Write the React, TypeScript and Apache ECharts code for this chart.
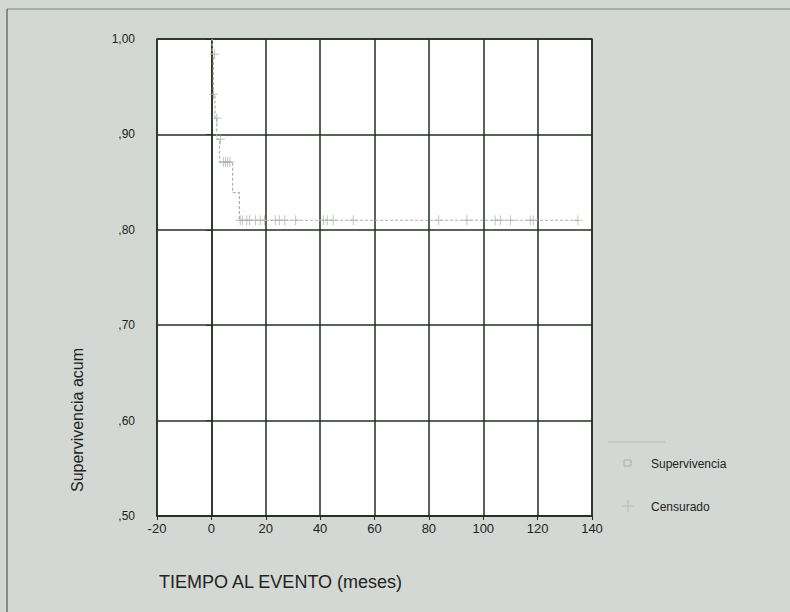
import React, { useEffect, useRef } from "react";
import * as echarts from "echarts";

// Kaplan-Meier survival curve (time in months, cumulative survival)
const stepTimes = [0, 0.3, 0.7, 1.3, 2.0, 3.0, 7.8, 10.3, 135];
const stepValues = [1.0, 0.984, 0.942, 0.917, 0.895, 0.871, 0.839, 0.81, 0.81];

// Censored observations
const censorTimes = [1.2, 0.8, 2.0, 3.3, 4.4, 5.2, 6.0, 6.8, 10.6, 11.4, 13.0, 14.0, 16.2, 18.0, 19.5, 23.5, 25.0, 27.0, 31.0, 41.2, 42.6, 44.8, 52.2, 83.6, 94.0, 104.4, 106.3, 110.0, 117.3, 118.4, 134.8];
const censorValues = [0.984, 0.942, 0.917, 0.895, 0.871, 0.871, 0.871, 0.871, 0.81, 0.81, 0.81, 0.81, 0.81, 0.81, 0.81, 0.81, 0.81, 0.81, 0.81, 0.81, 0.81, 0.81, 0.81, 0.81, 0.81, 0.81, 0.81, 0.81, 0.81, 0.81, 0.81];

const xTicks = [-20, 0, 20, 40, 60, 80, 100, 120, 140];
const yTicks = [0.5, 0.6, 0.7, 0.8, 0.9, 1.0];

const legendNames = ["Supervivencia", "Censurado"];
const xAxisTitle = "TIEMPO AL EVENTO (meses)";
const yAxisTitle = "Supervivencia acum";

const fmtY = (v: number) => {
  const s = v.toFixed(2).replace(".", ",");
  return s.startsWith("0") ? s.slice(1) : s;
};

export default function App() {
  const ref = useRef<HTMLDivElement>(null);
  useEffect(() => {
    if (!ref.current) return;
    const chart = echarts.init(ref.current, null, { renderer: "svg" });
    const dark = "#223022";
    const curveColor = "#aab2aa";
    const font = "Liberation Sans, Arial, sans-serif";
    chart.setOption({
      animation: false,
      backgroundColor: "#d4d8d4",
      grid: {
        left: 157,
        right: 198,
        top: 39,
        bottom: 96,
        show: true,
        backgroundColor: "#ffffff",
        borderColor: dark,
        borderWidth: 1.5,
      },
      xAxis: {
        type: "value",
        min: xTicks[0],
        max: xTicks[xTicks.length - 1],
        interval: 20,
        axisLine: { show: true, lineStyle: { color: dark, width: 1.5 } },
        axisTick: { show: true, length: 4, lineStyle: { color: dark } },
        axisLabel: { color: "#222", fontSize: 13, fontFamily: font, margin: 6 },
        splitLine: { show: true, lineStyle: { color: dark, width: 1.5 } },
      },
      yAxis: {
        type: "value",
        min: yTicks[0],
        max: yTicks[yTicks.length - 1],
        interval: 0.1,
        axisLine: { show: true, lineStyle: { color: dark, width: 1.5 } },
        axisTick: { show: true, length: 5, lineStyle: { color: dark } },
        axisLabel: {
          color: "#222",
          fontSize: 12,
          fontFamily: font,
          margin: 22,
          formatter: (v: number) => fmtY(v),
        },
        splitLine: { show: true, lineStyle: { color: dark, width: 1.5 } },
      },
      series: [
        {
          name: legendNames[0],
          type: "line",
          step: "end",
          data: stepTimes.map((t, i) => [t, stepValues[i]]),
          showSymbol: false,
          lineStyle: { color: curveColor, width: 1.2, type: [3, 2] },
          z: 5,
        },
        {
          name: legendNames[1],
          type: "scatter",
          data: censorTimes.map((t, i) => [t, censorValues[i]]),
          symbol: "path://M5 0 L5 10 M0 5 L10 5",
          symbolSize: [9, 10],
          itemStyle: { color: "transparent", borderColor: curveColor, borderWidth: 1 },
          z: 6,
        },
      ],
      graphic: [
        { type: "line", shape: { x1: 7, y1: 9, x2: 790, y2: 9 }, style: { stroke: "#7a847a", lineWidth: 1 } },
        { type: "line", shape: { x1: 7, y1: 9, x2: 7, y2: 612 }, style: { stroke: "#6a746a", lineWidth: 1.5 } },
        {
          type: "text",
          left: 159,
          top: 573,
          style: { text: xAxisTitle, fontSize: 18, fontFamily: font, fill: "#222" },
        },
        {
          type: "text",
          x: 77,
          y: 420,
          rotation: Math.PI / 2,
          style: {
            text: yAxisTitle,
            fontSize: 16,
            fontFamily: font,
            fill: "#222",
            textAlign: "center",
            textVerticalAlign: "middle",
          },
        },
        { type: "line", shape: { x1: 608, y1: 442, x2: 665, y2: 442 }, style: { stroke: "#b4bbb4", lineWidth: 1 } },
        { type: "rect", shape: { x: 624, y: 460, width: 7, height: 6 }, style: { fill: "none", stroke: "#a9b0a9", lineWidth: 1 } },
        {
          type: "text",
          x: 651,
          y: 464,
          style: { text: legendNames[0], fontSize: 12, fontFamily: font, fill: "#222", textVerticalAlign: "middle" },
        },
        { type: "line", shape: { x1: 622, y1: 506, x2: 634, y2: 506 }, style: { stroke: "#b4bbb4", lineWidth: 1 } },
        { type: "line", shape: { x1: 628, y1: 500, x2: 628, y2: 512 }, style: { stroke: "#b4bbb4", lineWidth: 1 } },
        {
          type: "text",
          x: 651,
          y: 507,
          style: { text: legendNames[1], fontSize: 12, fontFamily: font, fill: "#222", textVerticalAlign: "middle" },
        },
      ],
    });
    return () => chart.dispose();
  }, []);
  return (
    <div
      ref={ref}
      style={{ position: "absolute", left: 0, top: 0, width: 790, height: 612 }}
    />
  );
}
